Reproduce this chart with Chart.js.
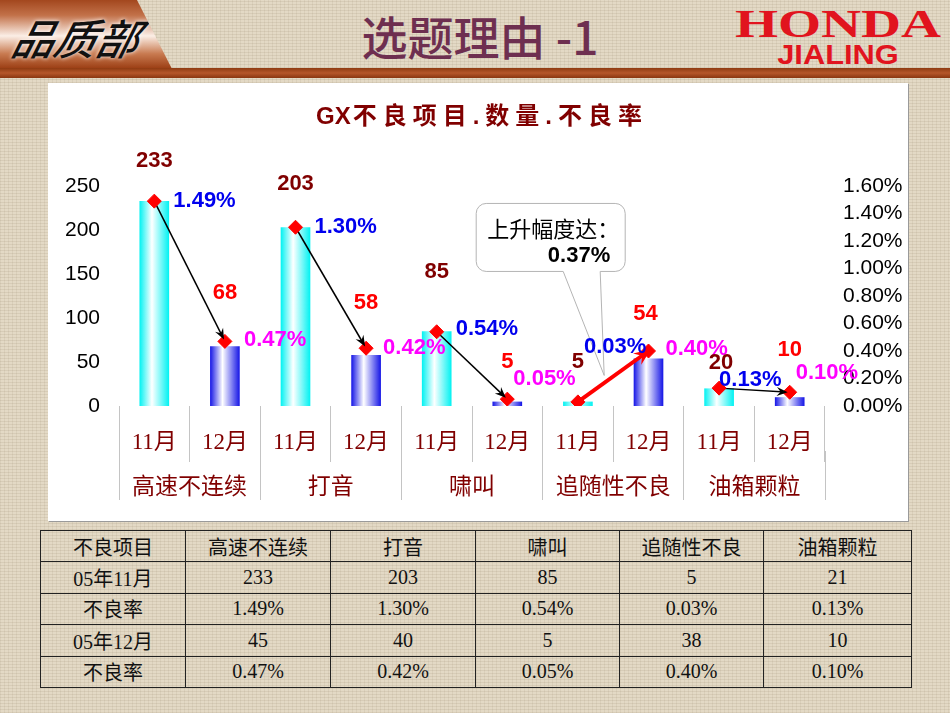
<!DOCTYPE html>
<html lang="zh-CN">
<head>
<meta charset="utf-8">
<title>选题理由 -1</title>
<script src="https://cdn.jsdelivr.net/npm/chart.js@4.4.1/dist/chart.umd.min.js"></script>
<style>
html, body { margin: 0; padding: 0; }
body {
    width: 950px; height: 713px; overflow: hidden; position: relative;
    background-color: #e3d9c5;
    background-image:
        repeating-linear-gradient(0deg, rgba(110, 90, 60, 0.10) 0 1px, transparent 1px 3px),
        repeating-linear-gradient(90deg, rgba(110, 90, 60, 0.08) 0 1px, transparent 1px 4px);
    font-family: 'Liberation Serif', 'Noto Sans CJK SC', serif;
}
.tab {
    position: absolute; left: 0; top: 0; width: 172px; height: 69px;
    clip-path: polygon(0 0, 137px 0, 172px 69px, 0 69px);
    background: linear-gradient(180deg, #a3471e 0%, #c27149 22%, #fbeee6 52%, #c87a50 78%, #9a3c12 100%);
}
.tab span {
    position: absolute; left: 14px; top: 6px;
    font: italic 500 42px 'Noto Sans CJK SC', sans-serif; color: #111;
    transform: skewX(-14deg); text-shadow: 0 0 4px #fff;
}
.rule {
    position: absolute; left: 0; top: 68px; width: 950px; height: 10px;
    background: linear-gradient(180deg, #8e3b12, #b5562a 50%, #8a3610);
}
.head {
    position: absolute; left: 300px; top: 2px; width: 360px; text-align: center;
    font: 500 46px 'Noto Sans CJK SC', sans-serif; color: #6e2f50;
}
.honda { position: absolute; left: 735px; top: 4px; width: 206px; text-align: center; color: #e1141e; }
.honda b { display: block; font: bold 39px 'Liberation Serif', serif; line-height: 40px; transform: scaleX(1.42); }
.honda i { display: block; font: normal bold 28px 'Liberation Sans', sans-serif; line-height: 22px; transform: scaleX(1.1); }
.box {
    position: absolute; left: 48px; top: 83px; width: 860px; height: 438px;
    background: #fff; box-shadow: 1px 1px 0 #9a9a9a;
}
table {
    position: absolute; left: 40px; top: 530px; width: 871px; height: 158px;
    border-collapse: collapse; table-layout: fixed;
    font-size: 20px; color: #111;
}
td { border: 1px solid #222; text-align: center; padding: 0; }
</style>
</head>
<body>
<div class="tab"><span>品质部</span></div>
<div class="rule"></div>
<div class="head">选题理由 -1</div>
<div class="honda"><b>HONDA</b><i>JIALING</i></div>

<div class="box"><canvas id="gxChart"></canvas></div>

<table id="gxTable">
    <colgroup><col style="width:145px"><col style="width:145px"><col style="width:145px"><col style="width:144px"><col style="width:144px"><col style="width:148px"></colgroup>
    <tbody></tbody>
</table>

<script>
// Values
var groups = ['高速不连续', '打音', '啸叫', '追随性不良', '油箱颗粒'];
var months = ['11月', '12月'];
var novCounts = [233, 203, 85, 5, 20];
var decCounts = [68, 58, 5, 54, 10];
var novRates = [1.49, 1.30, 0.54, 0.03, 0.13];
var decRates = [0.47, 0.42, 0.05, 0.40, 0.10];
var countTicks = [0, 50, 100, 150, 200, 250];
var rateTicks = [0, 0.2, 0.4, 0.6, 0.8, 1.0, 1.2, 1.4, 1.6];

// Table below the chart (as typed on the slide)
var tableHead = ['不良项目', '高速不连续', '打音', '啸叫', '追随性不良', '油箱颗粒'];
var tableNovCounts = [233, 203, 85, 5, 21];
var tableDecCounts = [45, 40, 5, 38, 10];

function pairUp(a, b) {
    var out = [];
    for (var i = 0; i < a.length; i++) { out.push(a[i], b[i]); }
    return out;
}

var slotLabels = [];
groups.forEach(function() { slotLabels.push(months[0], months[1]); });
var counts = pairUp(novCounts, decCounts);
var rates = pairUp(novRates, decRates);

function isRise(g) { return decRates[g] > novRates[g]; }

// label nudges: [dx, dy] relative to bar top / marker
var countNudge = [[0, 40], [0, 53], [0, 43], [0, 52], [0, 59], [0, 40], [0, 40], [-3, 45], [2, 25], [0, 47]];
var rateNudge = [[19, 0], [19, -1], [19, 0], [17, 0], [19, -3], [6, -20], [6, -55], [17, -2], [0, -8], [6, -19]];

function barFill(c) {
    var chart = c.chart;
    var base = c.dataIndex % 2 ? '#1414e6' : '#00f2f2';
    if (!chart.chartArea || c.type !== 'data') return base;
    var xs = chart.scales.x;
    var cx = xs.getPixelForValue(c.dataIndex);
    var half = xs.width / slotLabels.length * 0.42 / 2;
    var g = chart.ctx.createLinearGradient(cx - half, 0, cx + half, 0);
    g.addColorStop(0, base);
    g.addColorStop(0.42, '#ffffff');
    g.addColorStop(1, base);
    return g;
}

// Title: "GX" tight, Chinese part spaced out like the slide
var chartTitle = {
    id: 'chartTitle',
    afterDraw: function(chart) {
        var ctx = chart.ctx;
        var head = 'GX', rest = '不良项目.数量.不良率';
        ctx.save();
        ctx.font = 'bold 24px "Liberation Sans", "Noto Sans CJK SC", sans-serif';
        ctx.fillStyle = '#800000';
        ctx.textAlign = 'left';
        ctx.textBaseline = 'middle';
        var w1 = ctx.measureText(head).width;
        ctx.letterSpacing = '6px';
        var w2 = ctx.measureText(rest).width;
        var x0 = chart.width / 2 - (w1 + w2) / 2 + 3;
        ctx.letterSpacing = '0px';
        ctx.fillText(head, x0, 34);
        ctx.letterSpacing = '6px';
        ctx.fillText(rest, x0 + w1 + 2, 34);
        ctx.restore();
    }
};

// Arrow heads on every Nov -> Dec line
var arrowHeads = {
    id: 'arrowHeads',
    afterDatasetsDraw: function(chart) {
        var ctx = chart.ctx;
        var pts = chart.getDatasetMeta(1).data;
        ctx.save();
        for (var g = 0; g < groups.length; g++) {
            var a = pts[2 * g], b = pts[2 * g + 1];
            var up = isRise(g);
            var ang = Math.atan2(b.y - a.y, b.x - a.x);
            var len = up ? 17 : 11, wid = up ? 7 : 4.5, back = up ? -3 : 2;
            ctx.save();
            ctx.translate(b.x - Math.cos(ang) * back, b.y - Math.sin(ang) * back);
            ctx.rotate(ang);
            ctx.beginPath();
            ctx.moveTo(0, 0);
            ctx.lineTo(-len, -wid);
            ctx.lineTo(-len * 0.65, 0);
            ctx.lineTo(-len, wid);
            ctx.closePath();
            ctx.fillStyle = up ? '#ff0000' : '#000000';
            ctx.fill();
            ctx.restore();
        }
        ctx.restore();
    }
};

// Callout pointing at the rising line
var riseNote = {
    id: 'riseNote',
    afterDatasetsDraw: function(chart) {
        var ctx = chart.ctx;
        var pts = chart.getDatasetMeta(1).data;
        for (var g = 0; g < groups.length; g++) {
            if (!isRise(g)) continue;
            var a = pts[2 * g], b = pts[2 * g + 1];
            var tipX = (a.x + b.x) / 2 - 9, tipY = (a.y + b.y) / 2 - 1;
            var bx = tipX - 128, by = tipY - 172, bw = 149, bh = 68, r = 10;
            var t1 = bx + 87, t2 = bx + 124;
            ctx.save();
            ctx.beginPath();
            ctx.moveTo(bx + r, by);
            ctx.arcTo(bx + bw, by, bx + bw, by + bh, r);
            ctx.arcTo(bx + bw, by + bh, bx, by + bh, r);
            ctx.lineTo(t2, by + bh);
            ctx.lineTo(tipX, tipY);
            ctx.lineTo(t1, by + bh);
            ctx.arcTo(bx, by + bh, bx, by, r);
            ctx.arcTo(bx, by, bx + bw, by, r);
            ctx.closePath();
            ctx.fillStyle = '#ffffff';
            ctx.fill();
            ctx.strokeStyle = '#b4b4b4';
            ctx.lineWidth = 1;
            ctx.stroke();
            ctx.fillStyle = '#000000';
            ctx.textBaseline = 'middle';
            ctx.textAlign = 'left';
            ctx.font = '22px "Noto Sans CJK SC", sans-serif';
            ctx.fillText('上升幅度达：', bx + 11, by + 25);
            ctx.textAlign = 'right';
            ctx.font = 'bold 22px "Liberation Sans", sans-serif';
            ctx.fillText((decRates[g] - novRates[g]).toFixed(2) + '%', bx + 134, by + 52);
            ctx.restore();
        }
    }
};

// Count and rate labels
var markLabels = {
    id: 'markLabels',
    afterDatasetsDraw: function(chart) {
        var ctx = chart.ctx;
        var bars = chart.getDatasetMeta(0).data;
        var pts = chart.getDatasetMeta(1).data;
        ctx.save();
        ctx.font = 'bold 22px "Liberation Sans", Arial, sans-serif';
        ctx.textBaseline = 'middle';
        for (var i = 0; i < bars.length; i++) {
            var dec = i % 2;
            ctx.textAlign = 'center';
            ctx.fillStyle = dec ? '#ff0000' : '#800000';
            ctx.fillText(String(counts[i]), bars[i].x + countNudge[i][0], bars[i].y - countNudge[i][1]);
            ctx.textAlign = 'left';
            ctx.fillStyle = dec ? '#ff00ff' : '#0000ee';
            ctx.fillText(rates[i].toFixed(2) + '%', pts[i].x + rateNudge[i][0], pts[i].y + rateNudge[i][1]);
        }
        ctx.restore();
    }
};

function initGxChart() {
    Chart.defaults.font.family = "'Liberation Sans', Arial, sans-serif";
    Chart.defaults.color = '#000';

    var catFamily = "'Liberation Serif', 'Noto Sans CJK SC', serif";

    new Chart(document.getElementById('gxChart'), {
        data: {
            labels: slotLabels,
            datasets: [{
                type: 'bar',
                label: '数量',
                data: counts,
                yAxisID: 'y',
                backgroundColor: barFill,
                borderWidth: 0,
                barPercentage: 0.42,
                categoryPercentage: 1,
                order: 2
            }, {
                type: 'line',
                label: '不良率',
                data: rates,
                yAxisID: 'y1',
                borderColor: '#000',
                borderWidth: 1.5,
                pointStyle: 'rectRot',
                pointRadius: 7,
                pointBackgroundColor: '#ff0000',
                pointBorderColor: '#ff0000',
                pointBorderWidth: 1,
                segment: {
                    borderColor: function(s) {
                        if (s.p0DataIndex % 2) return 'rgba(0,0,0,0)';
                        return isRise(s.p0DataIndex / 2) ? '#ff0000' : '#000000';
                    },
                    borderWidth: function(s) {
                        if (s.p0DataIndex % 2) return 1;
                        return isRise(s.p0DataIndex / 2) ? 4 : 1.5;
                    }
                },
                order: 1
            }]
        },
        options: {
            responsive: true,
            maintainAspectRatio: false,
            animation: false,
            layout: { padding: { top: 103, bottom: 20, left: 0, right: 0 } },
            plugins: {
                legend: { display: false },
                tooltip: { enabled: false },
                title: { display: false }
            },
            scales: {
                x: {
                    offset: true,
                    grid: { offset: true, drawOnChartArea: false, tickLength: 56, color: '#c4c4c4' },
                    border: { display: false },
                    ticks: { font: { family: catFamily, size: 23 }, color: '#800000', padding: -33, maxRotation: 0, autoSkip: false },
                    afterFit: function(s) { s.height = 45; }
                },
                x2: {
                    type: 'category',
                    labels: groups,
                    position: 'bottom',
                    offset: true,
                    grid: { offset: true, drawOnChartArea: false, tickLength: 49, color: '#c4c4c4' },
                    border: { display: false },
                    ticks: { font: { family: catFamily, size: 23 }, color: '#800000', padding: -26, maxRotation: 0, autoSkip: false },
                    afterFit: function(s) { s.height = 50; }
                },
                y: {
                    position: 'left',
                    min: countTicks[0],
                    max: countTicks[countTicks.length - 1],
                    afterBuildTicks: function(s) { s.ticks = countTicks.map(function(v) { return { value: v }; }); },
                    grid: { display: false, drawTicks: false },
                    border: { display: false },
                    ticks: { font: { size: 21 }, color: '#000', padding: 19, autoSkip: false },
                    afterFit: function(s) { s.width = 71; }
                },
                y1: {
                    position: 'right',
                    min: rateTicks[0],
                    max: rateTicks[rateTicks.length - 1],
                    afterBuildTicks: function(s) { s.ticks = rateTicks.map(function(v) { return { value: v }; }); },
                    grid: { display: false, drawTicks: false },
                    border: { display: false },
                    ticks: {
                        font: { size: 21 }, color: '#000', padding: 18, autoSkip: false,
                        callback: function(v) { return Number(v).toFixed(2) + '%'; }
                    },
                    afterFit: function(s) { s.width = 83; }
                }
            }
        },
        plugins: [chartTitle, riseNote, arrowHeads, markLabels]
    });
}

function fillTable() {
    var body = document.querySelector('#gxTable tbody');
    var rows = [
        tableHead,
        ['05年11月'].concat(tableNovCounts),
        ['不良率'].concat(novRates.map(function(v) { return v.toFixed(2) + '%'; })),
        ['05年12月'].concat(tableDecCounts),
        ['不良率'].concat(decRates.map(function(v) { return v.toFixed(2) + '%'; }))
    ];
    rows.forEach(function(r) {
        var tr = document.createElement('tr');
        r.forEach(function(cell) {
            var td = document.createElement('td');
            td.textContent = cell;
            tr.appendChild(td);
        });
        body.appendChild(tr);
    });
}

document.addEventListener('DOMContentLoaded', function() {
    fillTable();
    if (typeof Chart !== 'undefined') {
        initGxChart();
    }
});
</script>
</body>
</html>
